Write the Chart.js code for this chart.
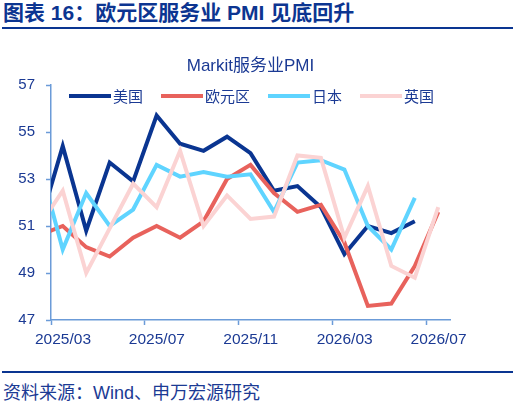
<!DOCTYPE html>
<html>
<head>
<meta charset="utf-8">
<script src="https://cdn.jsdelivr.net/npm/chart.js@4.4.1/dist/chart.umd.min.js"></script>
<style>
  body { margin: 0; background: #fff; width: 525px; height: 408px; position: relative; overflow: hidden;
         font-family: "Liberation Sans", "Noto Sans CJK SC", sans-serif; }
  #title { position: absolute; left: 3px; top: 1px; font-size: 21px; line-height: 24px; font-weight: bold; color: #0c3591;
           font-family: "Liberation Sans", "Noto Sans CJK SC", sans-serif; }
  .rule { position: absolute; left: 2px; width: 511px; height: 2px; background: #0a3591; }
  #source { position: absolute; left: 3px; top: 383px; font-size: 18px; line-height: 21px; color: #1b3a94; }
  #chartBox { position: absolute; left: 0; top: 40px; width: 525px; height: 320px; }
  #legend { position: absolute; left: 69px; top: 86px; height: 19px; display: flex; align-items: center; gap: 18px;
            font-size: 15px; color: #1b3a94; }
  #legend .item { display: flex; align-items: center; }
  #legend .swatch { width: 42px; height: 4px; margin-right: 2px; }
</style>
</head>
<body>
<div id="title">图表 16：欧元区服务业 PMI 见底回升</div>
<div class="rule" style="top:27px"></div>
<div id="chartBox"><canvas id="pmiChart" width="525" height="320" style="width:525px;height:320px"></canvas></div>
<div id="legend"></div>
<div class="rule" style="top:371px"></div>
<div id="source">资料来源：Wind、申万宏源研究</div>
<script>
const months = ["2025/02", "2025/03", "2025/04", "2025/05", "2025/06", "2025/07", "2025/08", "2025/09", "2025/10",
  "2025/11", "2025/12", "2026/01", "2026/02", "2026/03", "2026/04", "2026/05", "2026/06", "2026/07", "2026/08"];
const seriesNames = ["美国", "欧元区", "日本", "英国"];
const usPmi = [51.0, 54.4, 50.8, 53.7, 52.9, 55.7, 54.5, 54.2, 54.8, 54.1, 52.5, 52.7, 51.8, 49.8, 51.0, 50.7, 51.2, null];
const euPmi = [50.6, 51.0, 50.1, 49.7, 50.5, 51.0, 50.5, 51.2, 53.0, 53.6, 52.4, 51.6, 51.9, 50.3, 47.6, 47.7, 49.3, 51.6];
const jpPmi = [53.7, 50.0, 52.4, 51.0, 51.7, 53.6, 53.1, 53.3, 53.1, 53.2, 51.6, 53.7, 53.8, 53.4, 51.0, 50.0, 52.2, null];
const ukPmi = [51.0, 52.5, 49.0, 50.9, 52.8, 51.8, 54.2, 51.0, 52.3, 51.3, 51.4, 54.0, 53.9, 50.5, 52.7, 49.3, 48.8, 51.8];
const yTicks = [47, 49, 51, 53, 55, 57];

const textColor = "#1b3a94";
const axisColor = "#6b9bd8";
const colors = ["#0a3591", "#e8625c", "#5fd4ff", "#fbd3d3"];

// the axis starts at 2025/03, each monthly value sits half a month to the right of its tick
function toPoints(values) {
  return values.map((v, i) => ({ x: i - 0.5, y: v }));
}

const allSeries = [usPmi, euPmi, jpPmi, ukPmi];

const chart = new Chart(document.getElementById("pmiChart"), {
  type: "line",
  data: {
    datasets: allSeries.map((vals, i) => ({
      label: seriesNames[i],
      data: toPoints(vals),
      borderColor: colors[i],
      backgroundColor: colors[i],
      borderWidth: 4,
      pointRadius: 0,
      tension: 0,
      order: 3 - i,
      clip: { left: 0, top: 5, right: 5, bottom: 5 }
    }))
  },
  options: {
    responsive: false,
    maintainAspectRatio: false,
    animation: false,
    devicePixelRatio: 1,
    layout: { padding: { left: 0, right: 75, top: 0, bottom: 0 } },
    plugins: {
      legend: { display: false },
      tooltip: { enabled: false },
      title: {
        display: true,
        fullSize: false,
        text: "Markit服务业PMI",
        color: textColor,
        font: { family: "'Liberation Sans', 'Noto Sans CJK SC', sans-serif", size: 17, weight: "normal" },
        padding: { top: 16, bottom: 8.6 }
      }
    },
    scales: {
      x: {
        type: "linear",
        min: 0,
        max: 17,
        border: { color: axisColor, width: 1.5 },
        grid: { drawOnChartArea: false, drawTicks: true, tickLength: 5, tickColor: axisColor, tickWidth: 1.5 },
        ticks: {
          stepSize: 4,
          includeBounds: false,
          maxRotation: 0,
          padding: 5,
          labelOffset: 12,
          color: textColor,
          font: { family: "'Liberation Sans', sans-serif", size: 15.5 },
          callback: v => months[v + 1]
        },
        afterFit: scale => { scale.height = 40; }
      },
      y: {
        min: yTicks[0],
        max: yTicks[yTicks.length - 1],
        border: { color: axisColor, width: 1.5 },
        grid: { drawOnChartArea: false, drawTicks: true, tickLength: 5, tickColor: axisColor, tickWidth: 1.5 },
        afterBuildTicks: scale => { scale.ticks = yTicks.map(v => ({ value: v })); },
        ticks: {
          padding: 11,
          color: textColor,
          font: { family: "'Liberation Sans', sans-serif", size: 15 }
        },
        afterFit: scale => { scale.width = 51; }
      }
    }
  }
});

// legend built from the chart's own datasets
const legendBox = document.getElementById("legend");
chart.data.datasets.forEach(ds => {
  const item = document.createElement("div");
  item.className = "item";
  item.innerHTML = `<span class="swatch" style="background:${ds.borderColor}"></span><span>${ds.label}</span>`;
  legendBox.appendChild(item);
});
</script>
</body>
</html>
